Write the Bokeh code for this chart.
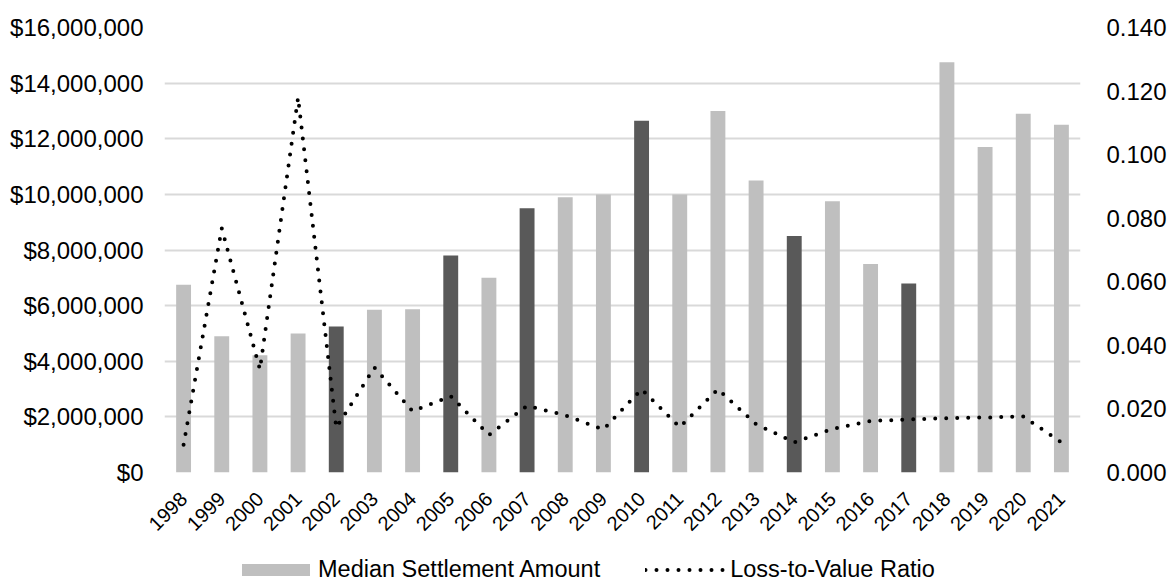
from bokeh.plotting import figure
from bokeh.layouts import column
from bokeh.models import (Range1d, LinearAxis, FixedTicker, NumeralTickFormatter,
                          Legend, LegendItem, FactorRange, ColumnDataSource)
from bokeh.embed import file_html
from bokeh.resources import INLINE
import math

# ---- data ----
years = ["1998", "1999", "2000", "2001", "2002", "2003", "2004", "2005",
         "2006", "2007", "2008", "2009", "2010", "2011", "2012", "2013",
         "2014", "2015", "2016", "2017", "2018", "2019", "2020", "2021"]
median_settlement = [6750000, 4900000, 4220000, 5000000, 5250000, 5850000,
                     5870000, 7800000, 7000000, 9500000, 9900000, 10000000,
                     12650000, 10000000, 13000000, 10500000, 8500000, 9750000,
                     7500000, 6800000, 14750000, 11700000, 12900000, 12500000]
loss_to_value = [0.0087, 0.0768, 0.0324, 0.1180, 0.0141, 0.0330, 0.0193,
                 0.0240, 0.0118, 0.0210, 0.0180, 0.0135, 0.0262, 0.0143,
                 0.0262, 0.0152, 0.0095, 0.0137, 0.0162, 0.0167, 0.0171,
                 0.0173, 0.0176, 0.0095]
highlight_years = ["2002", "2005", "2007", "2010", "2014", "2017"]

amount_ticks = [0, 2000000, 4000000, 6000000, 8000000, 10000000,
                12000000, 14000000, 16000000]
ratio_ticks = [0.0, 0.02, 0.04, 0.06, 0.08, 0.10, 0.12, 0.14]

LIGHT = "#BFBFBF"
DARK = "#595959"
FONT = "Liberation Sans"
FS = "24px"
W = 1169
CHART_H = 548
LEGEND_H = 583 - CHART_H
LEFT = 164
RIGHT = 83

colors = [DARK if y in highlight_years else LIGHT for y in years]
src = ColumnDataSource(dict(year=years, amount=median_settlement,
                            ratio=loss_to_value, color=colors))

# ---- main chart ----
p = figure(width=W, height=CHART_H, x_range=FactorRange(*years),
           y_range=Range1d(0, amount_ticks[-1]),
           output_backend="svg", toolbar_location=None,
           min_border_left=LEFT, min_border_right=RIGHT,
           min_border_top=27, min_border_bottom=CHART_H - 472)
p.extra_y_ranges = {"ratio": Range1d(0, ratio_ticks[-1])}
p.outline_line_color = None
p.background_fill_color = "white"
p.border_fill_color = "white"

p.vbar(x="year", top="amount", width=0.39, source=src,
       fill_color="color", line_color=None)
p.line(x="year", y="ratio", source=src, y_range_name="ratio",
       line_color="black", line_width=4, line_dash="0 11",
       line_cap="round", line_join="round")

# left axis (amount)
la = p.yaxis[0]
la.ticker = FixedTicker(ticks=amount_ticks)
la.formatter = NumeralTickFormatter(format="$0,0")
la.axis_line_color = None
la.major_tick_line_color = None
la.minor_tick_line_color = None
la.major_label_text_font = FONT
la.major_label_text_font_size = FS
la.major_label_text_color = "black"
la.major_label_standoff = 15

# right axis (ratio)
ra = LinearAxis(y_range_name="ratio", ticker=FixedTicker(ticks=ratio_ticks),
                formatter=NumeralTickFormatter(format="0.000"))
ra.axis_line_color = None
ra.major_tick_line_color = None
ra.minor_tick_line_color = None
ra.major_label_text_font = FONT
ra.major_label_text_font_size = FS
ra.major_label_text_color = "black"
ra.major_label_standoff = 20
p.add_layout(ra, "right")

# category axis
xa = p.xaxis[0]
xa.axis_line_color = None
xa.major_tick_line_color = None
xa.minor_tick_line_color = None
xa.major_label_orientation = math.pi / 4
xa.major_label_text_font = FONT
xa.major_label_text_font_size = "20px"
xa.major_label_text_color = "black"
xa.major_label_standoff = 17

p.xgrid.grid_line_color = None
p.ygrid.grid_line_color = "#D9D9D9"
p.ygrid.grid_line_width = 2

# ---- legend strip (frame aligned with the chart above) ----
lg = figure(width=W, height=LEGEND_H, x_range=Range1d(0, 1),
            y_range=Range1d(0, 1), output_backend="svg",
            toolbar_location=None, min_border=0,
            min_border_left=LEFT, min_border_right=RIGHT,
            x_axis_type=None, y_axis_type=None)
lg.outline_line_color = None
lg.xgrid.visible = False
lg.ygrid.visible = False
key_bar = lg.vbar(x=[-100], top=[-100], width=1, fill_color=LIGHT,
                  line_color=None)
key_line = lg.line(x=[-100, -90], y=[-100, -100], line_color="black",
                   line_width=4, line_dash="0 11", line_cap="round")

legend = Legend(items=[
    LegendItem(label="Median Settlement Amount", renderers=[key_bar]),
    LegendItem(label="Loss-to-Value Ratio", renderers=[key_line]),
], orientation="horizontal", location=(233 - LEFT, 0))
legend.border_line_color = None
legend.background_fill_alpha = 0
legend.padding = 0
legend.margin = 0
legend.spacing = 45
legend.glyph_width = 85
legend.glyph_height = 15
legend.label_height = 20
legend.label_standoff = 0
legend.label_text_font = FONT
legend.label_text_font_size = "23.5px"
legend.label_text_color = "black"
lg.add_layout(legend, "center")

layout = column(p, lg, spacing=0)
open("out.html", "w").write(file_html(layout, INLINE))
